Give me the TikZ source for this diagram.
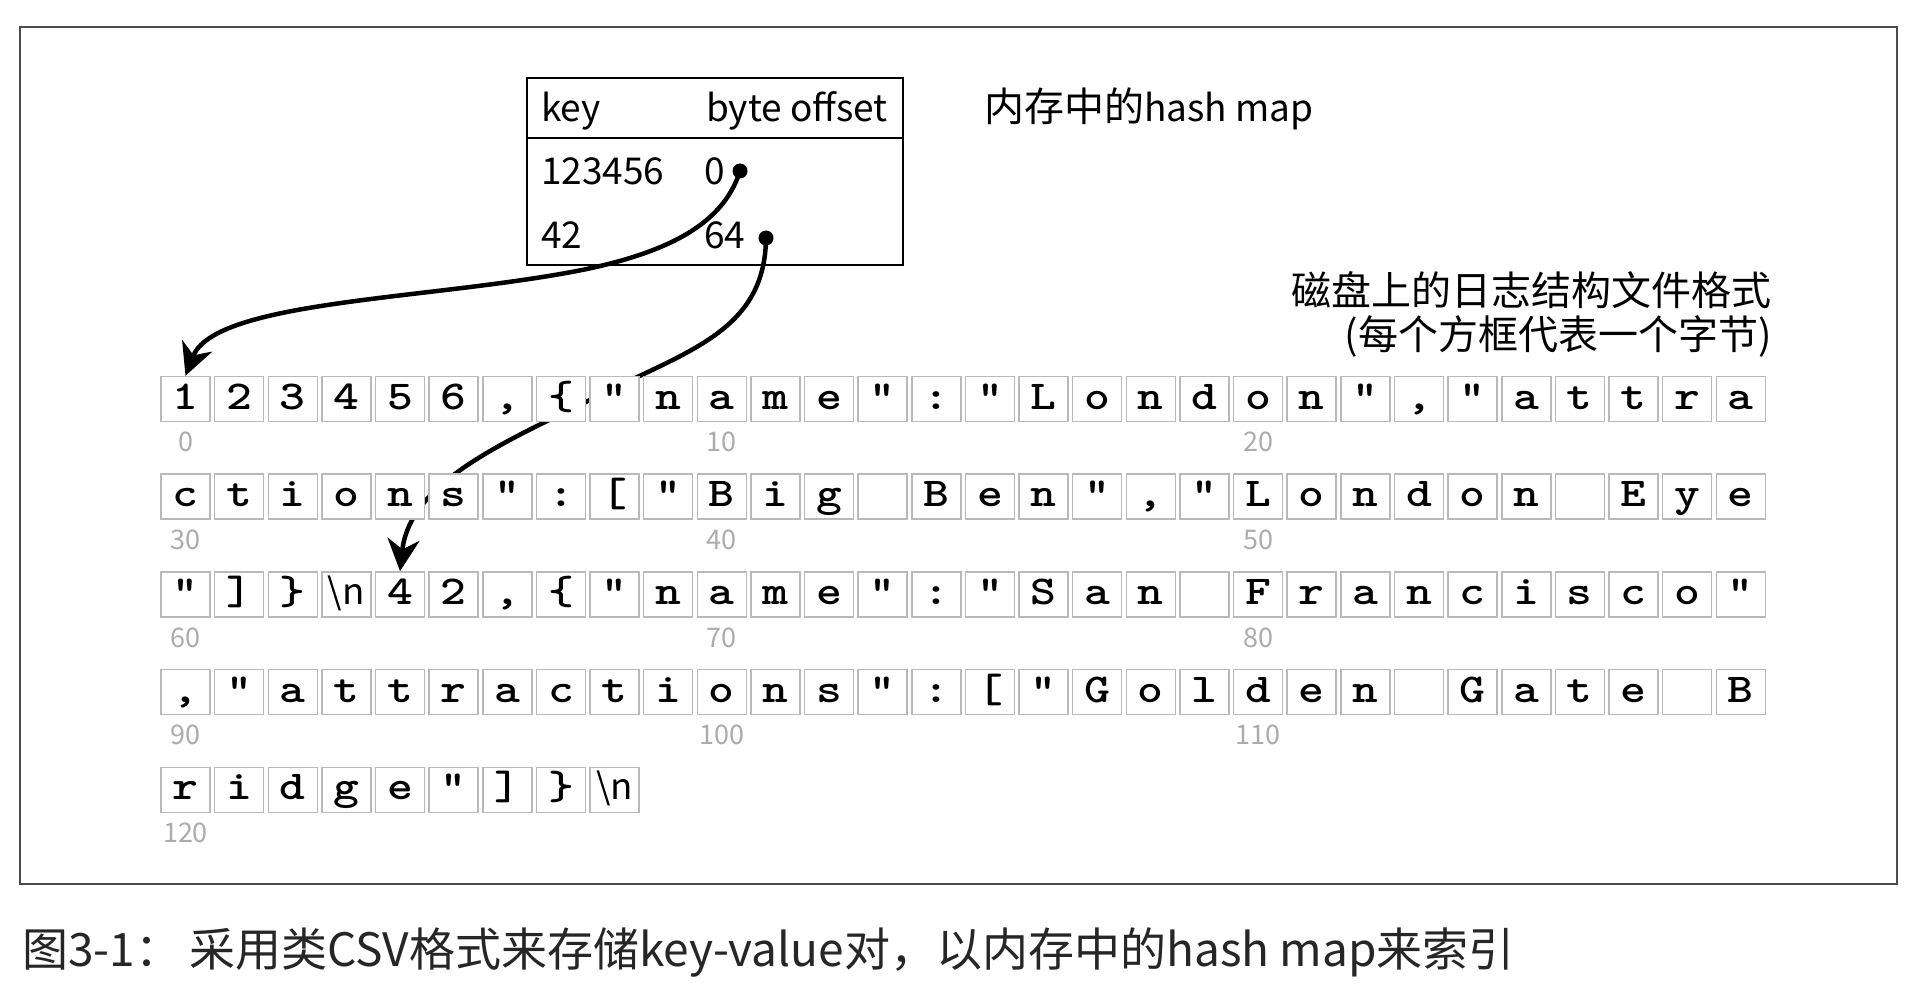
\documentclass[tikz,border=0pt]{standalone}
\usepackage{fontspec}
\usepackage{graphicx}
\setmainfont{Noto Sans CJK SC}
\usetikzlibrary{arrows.meta}
\pgfdeclarelayer{bg}
\pgfsetlayers{bg,main}
\newcommand\bsn{{\normalfont\fontsize{36}{36}\selectfont\scalebox{0.85}[1]{\textbackslash n}}}
\newcommand\latsz{\fontsize{37}{37}\selectfont}
\tikzset{
  bytebox/.style={draw=gray!55, line width=1.5pt, fill=white, minimum width=49pt,
    minimum height=45pt, inner sep=0pt, text height=26pt, text depth=6pt,
    font=\fontsize{41}{41}\ttfamily\bfseries},
  idx/.style={text=gray!65, font=\fontsize{27}{27}\selectfont, inner sep=0pt},
  ptr/.style={line width=4.5pt, -{Stealth[length=32pt,width=32pt,inset=10pt]}},
  dotnode/.style={circle, fill=black, inner sep=0pt, minimum size=15pt},
  lbl/.style={font=\fontsize{40}{40}\selectfont, inner sep=0pt},
  latlbl/.style={font=\fontsize{37}{37}\selectfont, inner sep=0pt},
}
\begin{document}
\begin{tikzpicture}[x=1pt,y=-1pt]
\useasboundingbox (0,0) rectangle (1914,1000);
\begin{pgfonlayer}{bg}
\fill[white] (0,0) rectangle (1914,1000);
\end{pgfonlayer}
% outer frame
\draw[line width=2pt, draw=black!70] (20,27) rectangle (1897,884);
% hash table
\node[draw, line width=2pt, minimum width=376pt, minimum height=187pt, inner sep=0pt, anchor=north west] (tbl) at (526,77) {};
\coordinate (hdr) at (0,138);
\draw[line width=2pt] (tbl.west |- hdr) -- (tbl.east |- hdr);
\node[latlbl, anchor=base west] (kkey) at (541,122) {key};
\node[latlbl, anchor=base west] (kbo) at (706,122) {byte offset};
\node[latlbl, anchor=base west] (k1) at (541,185) {123456};
\node[latlbl, anchor=base west] (v1) at (704,185) {0};
\node[latlbl, anchor=base west] (k2) at (541,249) {42};
\node[latlbl, anchor=base west] (v2) at (704,249) {64};
\node[dotnode] (d0) at (740,171) {};
\node[dotnode] (d64) at (766,238) {};
\node[lbl, anchor=base west] (memlbl) at (984,122) {内存中的{\latsz hash map}};
\node[lbl, anchor=east] (disk1) at (1772,290) {磁盘上的日志结构文件格式};
\node[lbl, anchor=east] (disk2) at (1772,336) {(每个方框代表一个字节)};
% byte cells
\foreach \ch [count=\i from 0] in {1,2,3,4,5,6,{,},\{,",n,a,m,e,",:,",L,o,n,d,o,n,",{,},",a,t,t,r,a,c,t,i,o,n,s,",:,[,",B,i,g,{},B,e,n,",{,},",L,o,n,d,o,n,{},E,y,e,",],\},\bsn,4,2,{,},\{,",n,a,m,e,",:,",S,a,n,{},F,r,a,n,c,i,s,c,o,",{,},",a,t,t,r,a,c,t,i,o,n,s,",:,[,",G,o,l,d,e,n,{},G,a,t,e,{},B,r,i,d,g,e,",],\},\bsn}{
  \pgfmathtruncatemacro\brow{floor(\i/30)}
  \pgfmathtruncatemacro\bcol{\i-30*\brow}
  \node[bytebox] (c\i) at ({185.5+53.63*\bcol},{399+97.7*\brow}) {\scalebox{1.2}[1]{\ch}};
}
\foreach \k in {0,10,...,120}{
  \node[idx] (l\k) at ([yshift=-43pt]c\k.center) {\k};
}
% pointers
\begin{pgfonlayer}{bg}
\draw[ptr] (d0.center) .. controls (725,218) and (680,250) .. (582,270)
  .. controls (430,300) and (215,300) .. (c0.north);
\draw[ptr] (d64.center) .. controls (765,330) and (690,350) .. (600,395)
  .. controls (510,440) and (410,480) .. (c64.north);
\end{pgfonlayer}
% caption
\node[anchor=west, inner sep=0pt, text=black!85, font=\fontsize{46}{46}\selectfont] (cap) at (22,952) {图3-1：\hspace{8pt}采用类CSV格式来存储key-value对，以内存中的hash map来索引};
\end{tikzpicture}
\end{document}
